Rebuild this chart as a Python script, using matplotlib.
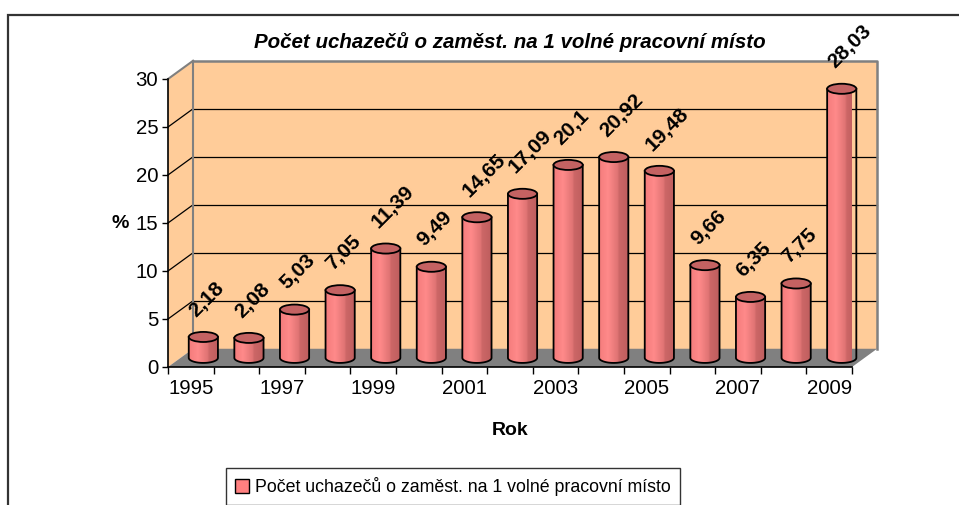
import matplotlib.pyplot as plt
import matplotlib.patches as mpatches
from matplotlib.colors import LinearSegmentedColormap
import numpy as np

plt.rcParams['font.family'] = ['Liberation Sans', 'DejaVu Sans']

# data
years = list(range(1995, 2010))
values = [2.18, 2.08, 5.03, 7.05, 11.39, 9.49, 14.65, 17.09, 20.1, 20.92,
          19.48, 9.66, 6.35, 7.75, 28.03]
title = "Počet uchazečů o zaměst. na 1 volné pracovní místo"
series_name = "Počet uchazečů o zaměst. na 1 volné pracovní místo"

W, H = 959, 505
fig = plt.figure(figsize=(W / 100, H / 100), dpi=100)
fig.patch.set_facecolor('white')

# front plane: x 0..15 -> px 168..852, y 0..30 -> px 367..79
ax = fig.add_axes([168 / W, (H - 367) / H, 684 / W, 288 / H])
ax.set_facecolor('none')
n = len(values)
ymax = 30
dx, dy = 0.55, 1.9        # depth offset of back wall (data units)
peach = '#FFCC99'
floor_c = '#808080'
edge_gray = '#808080'

# side wall and back wall
ax.add_patch(mpatches.Polygon([(0, 0), (dx, dy), (dx, ymax + dy), (0, ymax)],
                              closed=True, facecolor=peach, edgecolor='none', zorder=1, clip_on=False))
ax.add_patch(mpatches.Rectangle((dx, dy), n, ymax, facecolor=peach, edgecolor='none',
                                zorder=1, clip_on=False))
# floor
ax.add_patch(mpatches.Polygon([(0, 0), (n, 0), (n + dx, dy), (dx, dy)], closed=True,
                              facecolor=floor_c, edgecolor='none', zorder=1.5, clip_on=False))

# gridlines
for v in range(5, ymax, 5):
    ax.plot([dx, n + dx], [v + dy, v + dy], color='black', lw=0.9, zorder=2, clip_on=False)
    ax.plot([0, dx], [v, v + dy], color='black', lw=0.9, zorder=2, clip_on=False)
# wall borders
ax.plot([0, dx], [ymax, ymax + dy], color=edge_gray, lw=1.5, zorder=2, clip_on=False)
ax.plot([dx, n + dx, n + dx], [ymax + dy, ymax + dy, dy], color=edge_gray, lw=1.8,
        zorder=2, clip_on=False)
ax.plot([dx, dx], [dy, ymax + dy], color=edge_gray, lw=1.5, zorder=2, clip_on=False)

# cylinders
cmap = LinearSegmentedColormap.from_list('cyl', [
    (0.0, '#F47C7C'), (0.3, '#FF8A8A'), (0.62, '#E07474'),
    (0.68, '#CC6666'), (1.0, '#BE5E5E')])
grad = np.linspace(0, 1, 64).reshape(1, -1)
bw = 0.64
eh = 1.05
base = dy / 2
t = np.linspace(np.pi, 2 * np.pi, 30)
for i, v in enumerate(values):
    cx = i + 0.5 + dx / 2
    top = v + base
    xl, xr = cx - bw / 2, cx + bw / 2
    bx = cx + (bw / 2) * np.cos(t)
    by = base + (eh / 2) * np.sin(t)
    verts = [(xl, top)] + list(zip(bx, by)) + [(xr, top), (xl, top)]
    body = mpatches.Polygon(verts, closed=True, facecolor='none', edgecolor='black',
                            lw=1.3, zorder=4, clip_on=False)
    ax.add_patch(body)
    im = ax.imshow(grad, extent=[xl, xr, base - eh, top], aspect='auto', cmap=cmap,
                   zorder=3, interpolation='bilinear')
    clip = mpatches.Polygon(verts, closed=True, transform=ax.transData)
    im.set_clip_path(clip)
    ax.add_patch(mpatches.Ellipse((cx, top), bw, eh, facecolor='#C46262',
                                  edgecolor='black', lw=1.3, zorder=5, clip_on=False))
    ax.annotate(f"{v:g}".replace('.', ','), xy=(cx, top), xytext=(-5, 14),
                textcoords='offset points', rotation=45, rotation_mode='anchor',
                ha='left', va='baseline', fontsize=15, fontweight='bold',
                zorder=10, annotation_clip=False)

ax.set_xlim(0, n)
ax.set_ylim(0, ymax)

# axes
for s in ['top', 'right']:
    ax.spines[s].set_visible(False)
for s in ['left', 'bottom']:
    ax.spines[s].set_color('black')
    ax.spines[s].set_linewidth(1.2)
    ax.spines[s].set_zorder(6)
ax.set_yticks(range(0, ymax + 1, 5))
ax.tick_params(axis='y', direction='out', length=4, width=1, pad=3, labelsize=14.7)
ax.set_xticks(range(0, n + 1))
ax.set_xticklabels([])
ax.tick_params(axis='x', which='major', direction='out', length=5, width=1)
ax.set_xticks(np.arange(n) + 0.5, minor=True)
ax.set_xticklabels([str(y) if k % 2 == 0 else '' for k, y in enumerate(years)], minor=True)
ax.tick_params(axis='x', which='minor', length=0, pad=9, labelsize=14.7)

ax.set_xlabel('Rok', fontsize=14, fontweight='bold')
ax.xaxis.set_label_coords(0.5, -0.19)
ax.set_ylabel('%', fontsize=14, fontweight='bold', rotation=0, va='center', ha='center')
ax.yaxis.set_label_coords(-0.07, 0.5)

fig.text(510 / W, 1 - 42 / H, title, ha='center', va='center', fontsize=14.8,
         fontweight='bold', fontstyle='italic')

# legend
handle = mpatches.Patch(facecolor='#FF8080', edgecolor='black', lw=1)
leg = fig.legend([handle], [series_name], loc='upper center',
                 bbox_to_anchor=(453 / W, 1 - 468 / H), fontsize=12.8, frameon=True,
                 fancybox=False, shadow=False, borderpad=0.5, handlelength=0.75,
                 handleheight=0.85, handletextpad=0.35, borderaxespad=0)
leg.get_frame().set_edgecolor('black')
leg.get_frame().set_linewidth(1)

# outer chart border (cut off at right and bottom)
fig.add_artist(mpatches.Rectangle((8 / W, -0.2), 1.2, 1.2 - 15 / H,
                                  transform=fig.transFigure, fill=False,
                                  edgecolor='#333333', lw=1.6))

fig.savefig('out.png', dpi=100)
